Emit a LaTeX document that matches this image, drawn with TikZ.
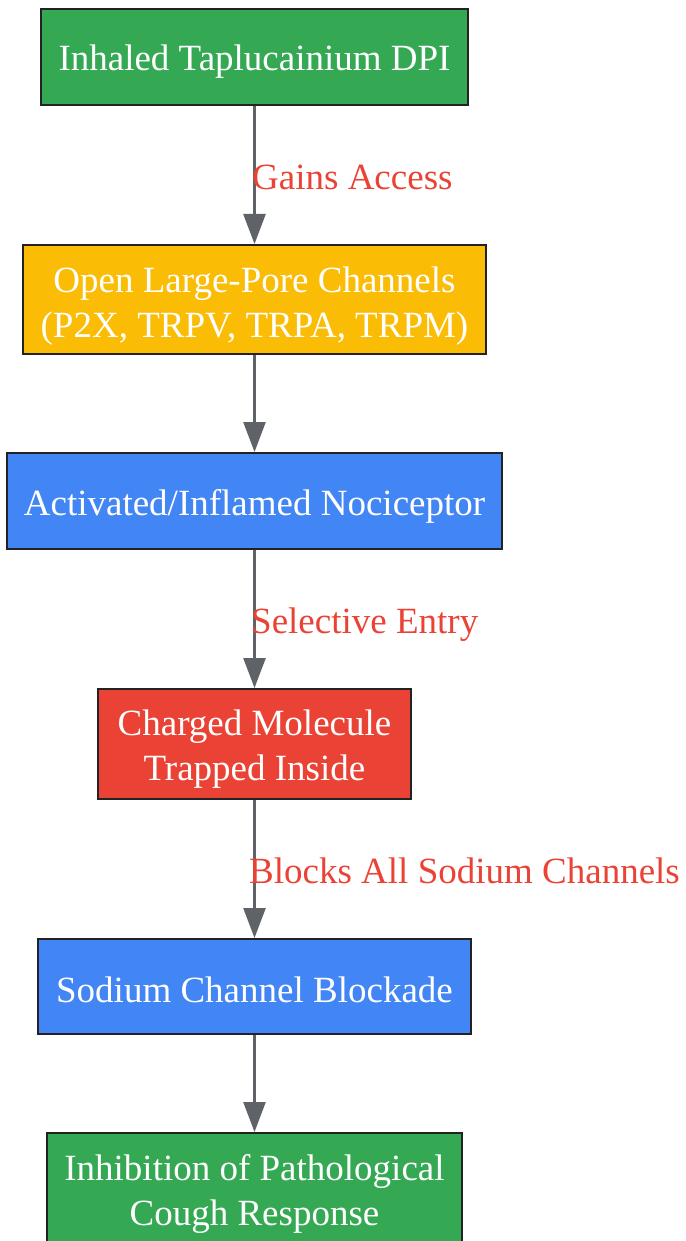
\documentclass[tikz,border=0pt]{standalone}
\usepackage{fontspec}
\setmainfont{Liberation Serif}
\usetikzlibrary{arrows.meta}
\definecolor{cgreen}{HTML}{34A853}
\definecolor{cyellow}{HTML}{FBBC05}
\definecolor{cblue}{HTML}{4285F4}
\definecolor{cred}{HTML}{EA4335}
\definecolor{cgray}{HTML}{5F6368}
\definecolor{cborder}{HTML}{222222}
\tikzset{
  box/.style={draw=cborder, line width=2pt, rectangle, inner sep=0pt},
  txt/.style={inner sep=0pt, align=center, text=white, font=\fontsize{37}{45}\selectfont},
  lbl/.style={anchor=west, inner sep=0pt, text=cred, font=\fontsize{37}{45}\selectfont},
  conn/.style={draw=cgray, line width=2.5pt, -{Triangle[width=22pt,length=30pt]}}
}
\begin{document}
\begin{tikzpicture}[x=1pt,y=-1pt]
\useasboundingbox (0,0) rectangle (685,1241);
\node[box, fill=cgreen, minimum width=427pt, minimum height=96pt] (n1) at (254.5,57) {};
\node[box, fill=cyellow, minimum width=463pt, minimum height=109pt] (n2) at (254.5,299.5) {};
\node[box, fill=cblue, minimum width=495pt, minimum height=96pt] (n3) at (254.5,501) {};
\node[box, fill=cred, minimum width=313pt, minimum height=110pt] (n4) at (254.5,744) {};
\node[box, fill=cblue, minimum width=433pt, minimum height=95pt] (n5) at (254.5,986.5) {};
\node[box, fill=cgreen, minimum width=415pt, minimum height=109pt] (n6) at (254.5,1187.5) {};
\node[txt] (t1) at ([yshift=-5pt]n1.center) {Inhaled Taplucainium DPI};
\node[txt] (t2) at ([yshift=-7pt]n2.center) {Open Large-Pore Channels\\(P2X, TRPV, TRPA, TRPM)};
\node[txt] (t3) at ([yshift=-5pt]n3.center) {Activated/Inflamed Nociceptor};
\node[txt] (t4) at ([yshift=-5pt]n4.center) {Charged Molecule\\Trapped Inside};
\node[txt] (t5) at ([yshift=-3pt]n5.center) {Sodium Channel Blockade};
\node[txt] (t6) at ([yshift=-6pt]n6.center) {Inhibition of Pathological\\Cough Response};
\draw[conn] (n1.south) -- (n2.north);
\draw[conn] (n2.south) -- (n3.north);
\draw[conn] (n3.south) -- (n4.north);
\draw[conn] (n4.south) -- (n5.north);
\draw[conn] (n5.south) -- (n6.north);
\node[lbl] (l1) at (252,177) {Gains Access};
\node[lbl] (l2) at (251,625) {Selective Entry};
\node[lbl] (l3) at (249,871) {Blocks All Sodium Channels};
\end{tikzpicture}
\end{document}
